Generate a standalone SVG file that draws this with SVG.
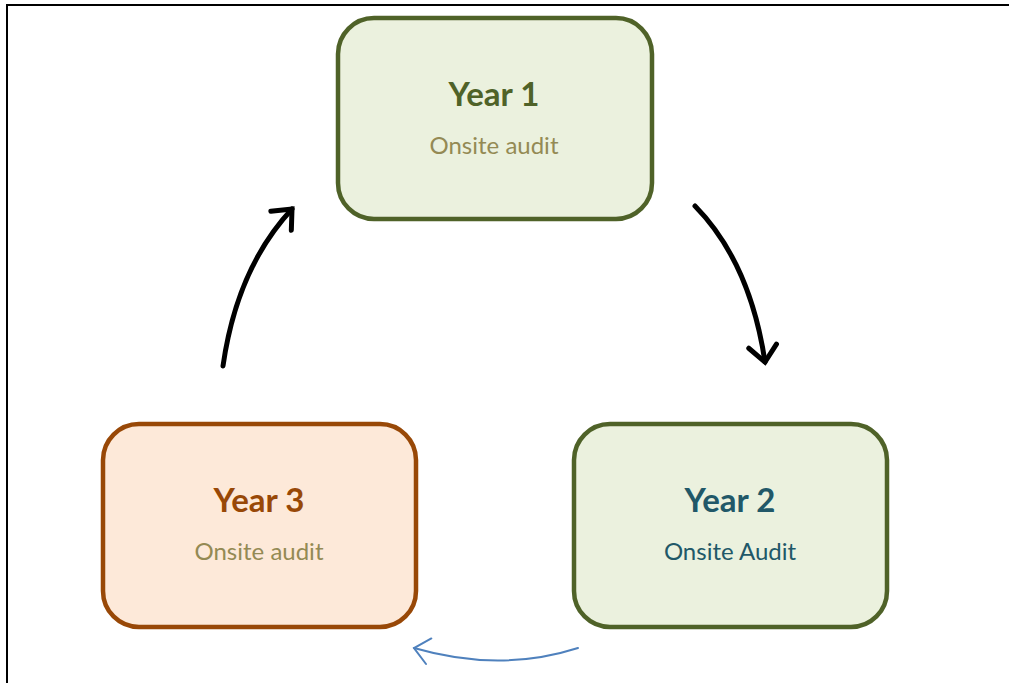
<svg xmlns="http://www.w3.org/2000/svg" width="1009" height="683" viewBox="0 0 1009 683">
<style>
.box{stroke-width:4.5}
.g{fill:#EBF1DE;stroke:#4F6228}
.o{fill:#FDE9D9;stroke:#984807}
.t{font-family:Lato,"Open Sans",sans-serif;font-weight:bold;font-size:33px;text-anchor:middle}
.s{font-family:Lato,"Open Sans",sans-serif;font-size:24px;text-anchor:middle}
.blk{fill:none;stroke:#000;stroke-width:5;stroke-linecap:round}
.blu{fill:none;stroke:#4F81BD;stroke-width:2;stroke-linecap:round}
</style>
<defs>
<marker id="hb" markerUnits="userSpaceOnUse" markerWidth="40" markerHeight="40" refX="20" refY="20" orient="auto" overflow="visible">
<path d="M4,6 L20,20 L4,34" fill="none" stroke="#000" stroke-width="5" stroke-linecap="round" stroke-linejoin="miter"/>
</marker>
<marker id="hu" markerUnits="userSpaceOnUse" markerWidth="40" markerHeight="40" refX="20" refY="20" orient="auto" overflow="visible">
<path d="M4,8 L20,20 L6,34" fill="none" stroke="#4F81BD" stroke-width="2" stroke-linecap="round"/>
</marker>
</defs>
<rect width="1009" height="683" fill="#fff"/>
<path d="M7,683 V5 H1009" fill="none" stroke="#000" stroke-width="2"/>
<g id="year1">
<rect class="box g" x="338" y="18" width="314" height="201" rx="36"/>
<text class="t" x="494" y="106" fill="#4F6228">Year 1</text>
<text class="s" x="494" y="154" fill="#948A54">Onsite audit</text>
</g>
<g id="year2">
<rect class="box g" x="574" y="424" width="313" height="203" rx="36"/>
<text class="t" x="730" y="512" fill="#215868">Year 2</text>
<text class="s" x="730" y="560" fill="#215868">Onsite Audit</text>
</g>
<g id="year3">
<rect class="box o" x="103" y="424" width="313" height="203" rx="36"/>
<text class="t" x="259" y="512" fill="#984807">Year 3</text>
<text class="s" x="259" y="560" fill="#948A54">Onsite audit</text>
</g>
<g id="connectors">
<path class="blk" d="M223,366 Q237,268 292,209" marker-end="url(#hb)"/>
<path class="blk" d="M695,206 Q750,262 765,362" marker-end="url(#hb)"/>
<path class="blu" d="M578,648 Q500,673 414,648" marker-end="url(#hu)"/>
</g>
</svg>
